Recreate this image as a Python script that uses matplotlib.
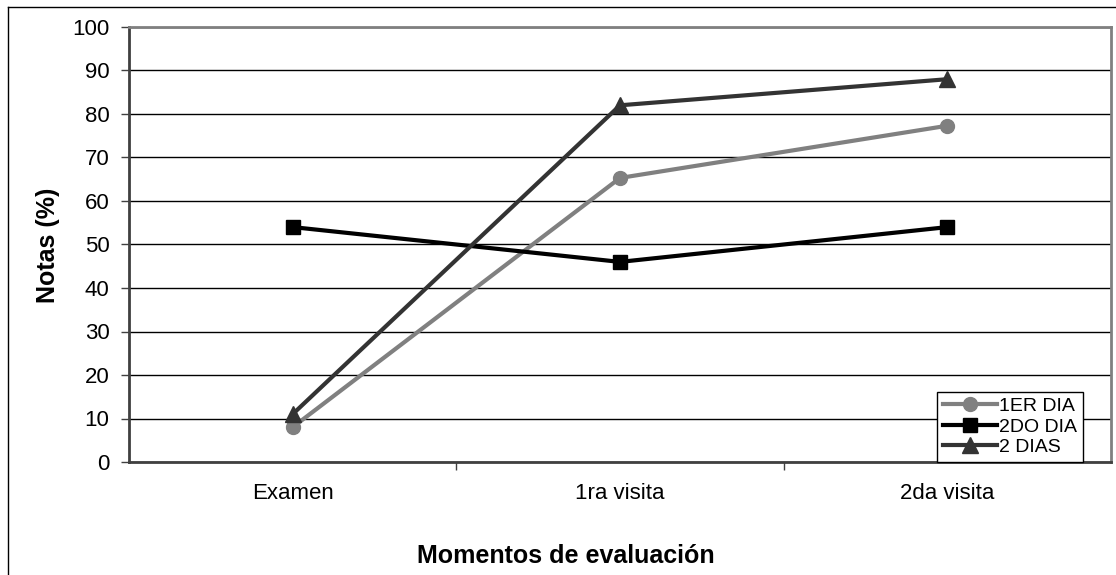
"""Notas por momento de evaluación: line chart."""
import matplotlib
matplotlib.use("Agg")
import matplotlib.pyplot as plt
from matplotlib.lines import Line2D

plt.rcParams.update({"font.family": ["Liberation Sans", "DejaVu Sans"], "figure.dpi": 100})

# ---------- data ----------
momentos = ["Examen", "1ra visita", "2da visita"]
dia1 = [8.0, 65.3, 77.3]      # 1ER DIA
dia2 = [54.0, 46.0, 54.0]     # 2DO DIA
dos_dias = [11.0, 82.0, 88.0]  # 2 DIAS
y_ticks = list(range(0, 101, 10))

GREY, BLACK, DARK = "#808080", "#000000", "#333333"

W, H = 1116, 575


def fig_notas():
    fig = plt.figure(figsize=(W / 100, H / 100))
    ax = fig.add_axes([129 / W, 1 - 462 / H, (1111 - 129) / W, (462 - 27) / H])

    x = list(range(len(momentos)))
    ax.plot(x, dia1, "-o", color=GREY, lw=3, ms=10, label="1ER DIA", zorder=3)
    ax.plot(x, dia2, "-s", color=BLACK, lw=3, ms=10, label="2DO DIA", zorder=3)
    ax.plot(x, dos_dias, "-^", color=DARK, lw=3, ms=12, label="2 DIAS", zorder=4)

    ax.set_xlim(-0.5, len(momentos) - 0.5)
    ax.set_ylim(0, 100)
    ax.set_yticks(y_ticks)
    ax.set_xticks(x)
    ax.set_xticklabels(momentos)
    ax.set_xticks([i + 0.5 for i in x[:-1]], minor=True)
    ax.tick_params(axis="x", which="major", length=0, pad=15, labelsize=16)
    ax.tick_params(axis="x", which="minor", length=6, width=1, color="#404040")
    ax.tick_params(axis="y", length=6, width=1, pad=8, labelsize=16, color="#404040")
    ax.yaxis.grid(True, color="black", lw=1)
    ax.set_axisbelow(True)

    for s in ("top", "right"):
        ax.spines[s].set_color(GREY); ax.spines[s].set_linewidth(2)
    for s in ("left", "bottom"):
        ax.spines[s].set_color("#404040"); ax.spines[s].set_linewidth(2)

    leg = ax.legend(loc="lower right", bbox_to_anchor=(0.9715, 0.0), fontsize=14,
                    fancybox=False, edgecolor="black", framealpha=1, borderpad=0.3,
                    labelspacing=0.15, handlelength=2.8, handletextpad=0.1,
                    borderaxespad=0)
    leg.get_frame().set_linewidth(1)

    fig.text(48 / W, 1 - 245 / H, "Notas (%)", rotation=90, ha="center", va="center",
             fontsize=18, fontweight="bold")
    fig.text(566 / W, 1 - 556 / H, "Momentos de evaluación", ha="center", va="center",
             fontsize=18, fontweight="bold")

    # outer chart frame (cut off at right and bottom)
    fig.add_artist(Line2D([8 / W, 1], [1 - 7 / H, 1 - 7 / H], color="black", lw=1))
    fig.add_artist(Line2D([8 / W, 8 / W], [0, 1 - 7 / H], color="black", lw=1))

    fig.savefig("out.png", dpi=100)
    plt.close(fig)


if __name__ == "__main__":
    fig_notas()
